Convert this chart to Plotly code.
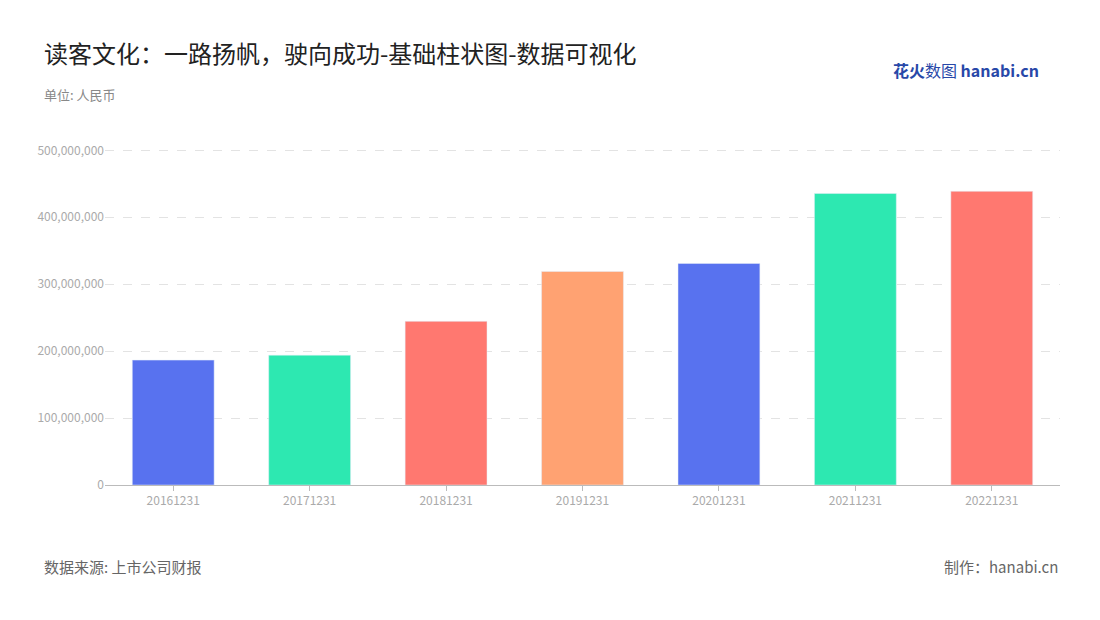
import plotly.graph_objects as go

years = ["20161231", "20171231", "20181231", "20191231", "20201231", "20211231", "20221231"]
revenue = [186600000, 194000000, 244500000, 319000000, 331000000, 435500000, 438800000]
bar_colors = ["#5872EF", "#2DE8B1", "#FF7870", "#FFA272", "#5872EF", "#2DE8B1", "#FF7870"]

font = "Noto Sans CJK SC"

fig = go.Figure(go.Bar(x=years, y=revenue, marker_color=bar_colors, width=0.6))

fig.update_layout(
    width=1100, height=620,
    paper_bgcolor="white", plot_bgcolor="white",
    margin=dict(l=97, r=48, t=139, b=143),
    font=dict(family=font),
    showlegend=False,
    title=dict(text="读客文化：一路扬帆，驶向成功-基础柱状图-数据可视化",
               x=0.0327, xanchor="left", y=0.925, yanchor="middle",
               font=dict(size=24, color="#222")),
    annotations=[
        dict(text="单位: 人民币", xref="paper", yref="paper", x=-0.0655, y=1.19,
             xanchor="left", showarrow=False, font=dict(size=13, color="#888")),
        dict(text="数据来源: 上市公司财报", xref="paper", yref="paper", x=-0.0655, y=-0.279,
             xanchor="left", showarrow=False, font=dict(size=15, color="#666")),
        dict(text="制作：hanabi.cn", xref="paper", yref="paper", x=1.0, y=-0.279,
             xanchor="right", showarrow=False, font=dict(size=15, color="#666")),
        dict(text="<b>花火</b>数图 <b>hanabi.cn</b>", xref="paper", yref="paper", x=0.98, y=1.27,
             xanchor="right", showarrow=False, font=dict(size=16, color="#2848A8")),
    ],
)
fig.update_xaxes(showline=True, linecolor="#bbb", tickfont=dict(size=12, color="#aaa"),
                 ticks="outside", tickcolor="#bbb", ticklen=5)
fig.update_yaxes(range=[0, 505000000], dtick=100000000, tickformat=",d",
                 gridcolor="#e3e3e3", griddash="dash", zeroline=False,
                 tickfont=dict(size=12, color="#aaa"))

fig.write_html("out.html")
